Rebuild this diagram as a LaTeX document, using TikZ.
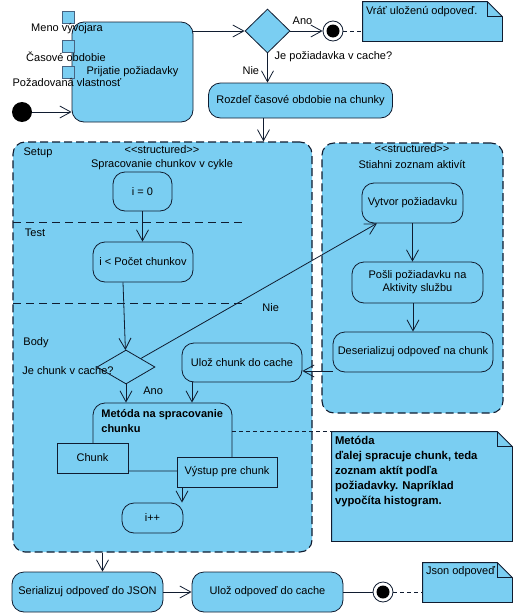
\documentclass[tikz,border=0pt]{standalone}
\usepackage{fontspec}
\setmainfont{Liberation Sans}
\usetikzlibrary{arrows.meta,shapes.geometric}
\definecolor{act fill}{RGB}{122,206,242}
\definecolor{line color}{RGB}{16,28,48}
\definecolor{port line}{RGB}{70,100,130}

\begin{document}
\begin{tikzpicture}[
	x=1pt, y=-1pt,
	font=\fontsize{11}{13}\selectfont,
	line width=.8pt,
	act/.style={rectangle, rounded corners=12pt, draw=line color, fill=act fill, align=center, inner sep=2pt},
	region/.style={rectangle, rounded corners=12pt, draw=line color, fill=act fill, line width=1.1pt, dash pattern=on 8pt off 4pt},
	pin/.style={rectangle, draw=line color, fill=act fill, inner sep=2pt},
	port/.style={rectangle, draw=port line, fill=act fill, line width=.5pt, minimum size=12pt, inner sep=0pt},
	decision/.style={diamond, draw=line color, fill=act fill, inner sep=0pt},
	initial/.style={circle, fill=black, minimum size=20pt, inner sep=0pt},
	final/.style={circle, draw=line color, fill=white, minimum size=20pt, inner sep=0pt,
		path picture={\fill[black] (path picture bounding box.center) circle[radius=6.5pt];}},
	note/.style={rectangle, inner sep=0pt},
	note text/.style={anchor=north west, align=left, inner sep=1pt},
	sep/.style={draw=line color, line width=1pt, dash pattern=on 8pt off 5pt},
	flow/.style={draw=line color, -{Straight Barb[length=11pt,width=12pt]}},
	link/.style={draw=line color, dash pattern=on 4pt off 3pt},
	lbl/.style={inner sep=1pt}]

\useasboundingbox (0,0) rectangle (516,616);

% Structured regions
\node[region, minimum width=299pt, minimum height=410pt] (loop) at (162.5,347) {};
\node[region, minimum width=181pt, minimum height=270pt] (fetch) at (412.5,278) {};
\node (loop st) at (162,150) {<\kern0pt<structured>\kern0pt>};
\node (loop title) at (162,165) {Spracovanie chunkov v cykle};
\node (fetch st) at (412,149) {<\kern0pt<structured>\kern0pt>};
\node (fetch title) at (412,165) {Stiahni zoznam aktivít};

% Loop compartments
\draw[sep] (13,222) -- (246,222);
\draw[sep] (13,303) -- (246,303);
\node (setup lbl) at (38,153) {Setup};
\node (test lbl) at (35,233) {Test};
\node (body lbl) at (36,343) {Body};

% Request
\node[act, minimum width=121pt, minimum height=100pt] (receive) at (132.5,72) {Prijatie požiadavky};
\node[port] (pin a) at (68,17.5) {};
\node[port] (pin b) at (68,46) {};
\node[port] (pin c) at (68,72) {};
\node (pin a lbl) at (67,29) {Meno vývojara};
\node (pin b lbl) at (66,57) {Časové obdobie};
\node (pin c lbl) at (67,83) {Požadovaná vlastnosť};
\node[initial] (start) at (22,112) {};

\node[decision, minimum width=45pt, minimum height=44pt] (cached) at (267.5,31) {};
\node[anchor=west] (cached lbl) at (271,57) {Je požiadavka v cache?};
\node[final] (end a) at (333,31) {};
\node[note, minimum width=139pt, minimum height=39pt] (note a) at (432.5,21.5) {};
\node[act, minimum width=184pt, minimum height=35pt] (split) at (300.5,100.5) {Rozdeľ časové obdobie na chunky};

% Loop body
\node[act, minimum width=59pt, minimum height=39pt] (init i) at (142.5,191.5) {i = 0};
\node[act, minimum width=100pt, minimum height=40pt] (test i) at (143,262) {i < Počet chunkov};
\node[decision, minimum width=58pt, minimum height=34pt] (in cache) at (126,367) {};
\node (in cache lbl) at (68,371) {Je chunk v cache?};
\node[act, minimum width=120pt, minimum height=39pt] (save chunk) at (242,362.5) {Ulož chunk do cache};
\node[act, minimum width=139pt, minimum height=68pt] (method) at (162.5,437) {};
\node[note text, font=\fontsize{11}{15}\selectfont\bfseries] (method lbl) at (100,408) {Metóda na spracovanie\\chunku};
\node[pin, minimum width=71pt, minimum height=30pt] (chunk pin) at (92.5,458) {Chunk};
\node[pin, minimum width=100pt, minimum height=30pt] (out pin) at (227,472) {Výstup pre chunk};
\node[act, minimum width=61pt, minimum height=30pt] (inc i) at (152.5,518) {i++};

% Fetch body
\node[act, minimum width=101pt, minimum height=40pt] (new req) at (412.5,203) {Vytvor požiadavku};
\node[act, minimum width=131pt, minimum height=41pt] (send req) at (417.5,282.5) {Pošli požiadavku na\\Aktivity službu};
\node[act, minimum width=160pt, minimum height=40pt] (deser) at (413,352) {Deserializuj odpoveď na chunk};

% Response
\node[act, minimum width=151pt, minimum height=40pt] (to json) at (87.5,592) {Serializuj odpoveď do JSON};
\node[act, minimum width=151pt, minimum height=40pt] (save resp) at (267.5,592) {Ulož odpoveď do cache};
\node[final] (end b) at (383,592) {};
\node[note, minimum width=180pt, minimum height=109pt] (note b) at (422,486.5) {};
\node[note, minimum width=89pt, minimum height=39pt] (note c) at (467.5,582.5) {};

% Notes
\foreach \n in {note a, note b, note c} {
	\filldraw[draw=line color, fill=act fill] (\n.north west) -- ([xshift=-15pt]\n.north east)
		-- ([yshift=-15pt]\n.north east) -- (\n.south east) -- (\n.south west) -- cycle;
	\draw[line color] ([xshift=-15pt]\n.north east) |- ([yshift=-15pt]\n.north east);
}
\node[note text] (note a txt) at ([xshift=2pt,yshift=-3pt]note a.north west) {Vráť uloženú odpoveď.};
\node[note text, font=\fontsize{11.3}{15}\selectfont\bfseries] (note b txt) at ([xshift=2pt,yshift=-3pt]note b.north west)
	{Metóda\\ďalej spracuje chunk, teda\\zoznam aktít podľa\\požiadavky. Napríklad\\vypočíta histogram.};
\node[note text] (note c txt) at ([xshift=2pt,yshift=-3pt]note c.north west) {Json odpoveď};

% Flows
\draw[flow] (start) -- (start -| receive.west);
\draw[flow] (receive.east |- cached) -- (cached);
\draw[flow] (cached) -- node[lbl, above=5pt, xshift=-4pt] {Ano} (end a);
\draw[link] (end a) -- (end a -| note a.west);
\draw[flow] (cached) -- node[lbl, left=7pt, yshift=-3pt] {Nie} (cached |- split.north);
\draw[flow] ([xshift=-37pt]split.south) -- ([xshift=-37pt]split.south |- loop.north);

\draw[flow] (init i) -- (init i |- test i.north);
\draw[flow] ([xshift=-20pt]test i.south) -- (in cache);
\draw[flow] (in cache) -- node[lbl, pos=.55, below=18pt] {Nie} (new req);
\draw[flow] (in cache) -- node[lbl, right=16pt, yshift=3pt] {Ano} (in cache |- method.north);
\draw[flow] ([xshift=-50pt]save chunk.south) -- ([xshift=-50pt]save chunk.south |- method.north);
\draw[flow] ([xshift=-45pt]out pin.south) -- ([xshift=-45pt]out pin.south |- inc i.north);
\draw[link] (method.east |- note b.north west) -- (note b.north west);

\draw[flow] (new req) -- (new req |- send req.north);
\draw[flow] (deser |- send req.south) -- (deser);
\draw[flow] ([yshift=-19pt]deser.west) -- ([yshift=-19pt]deser.west -| save chunk.east);

\draw[flow] ([xshift=-60pt]loop.south) -- ([xshift=-60pt]loop.south |- to json.north);
\draw[flow] (to json) -- (save resp);
\draw[line color] (save resp) -- (end b);
\draw[link] (end b) -- (end b -| note c.west);

\end{tikzpicture}
\end{document}
